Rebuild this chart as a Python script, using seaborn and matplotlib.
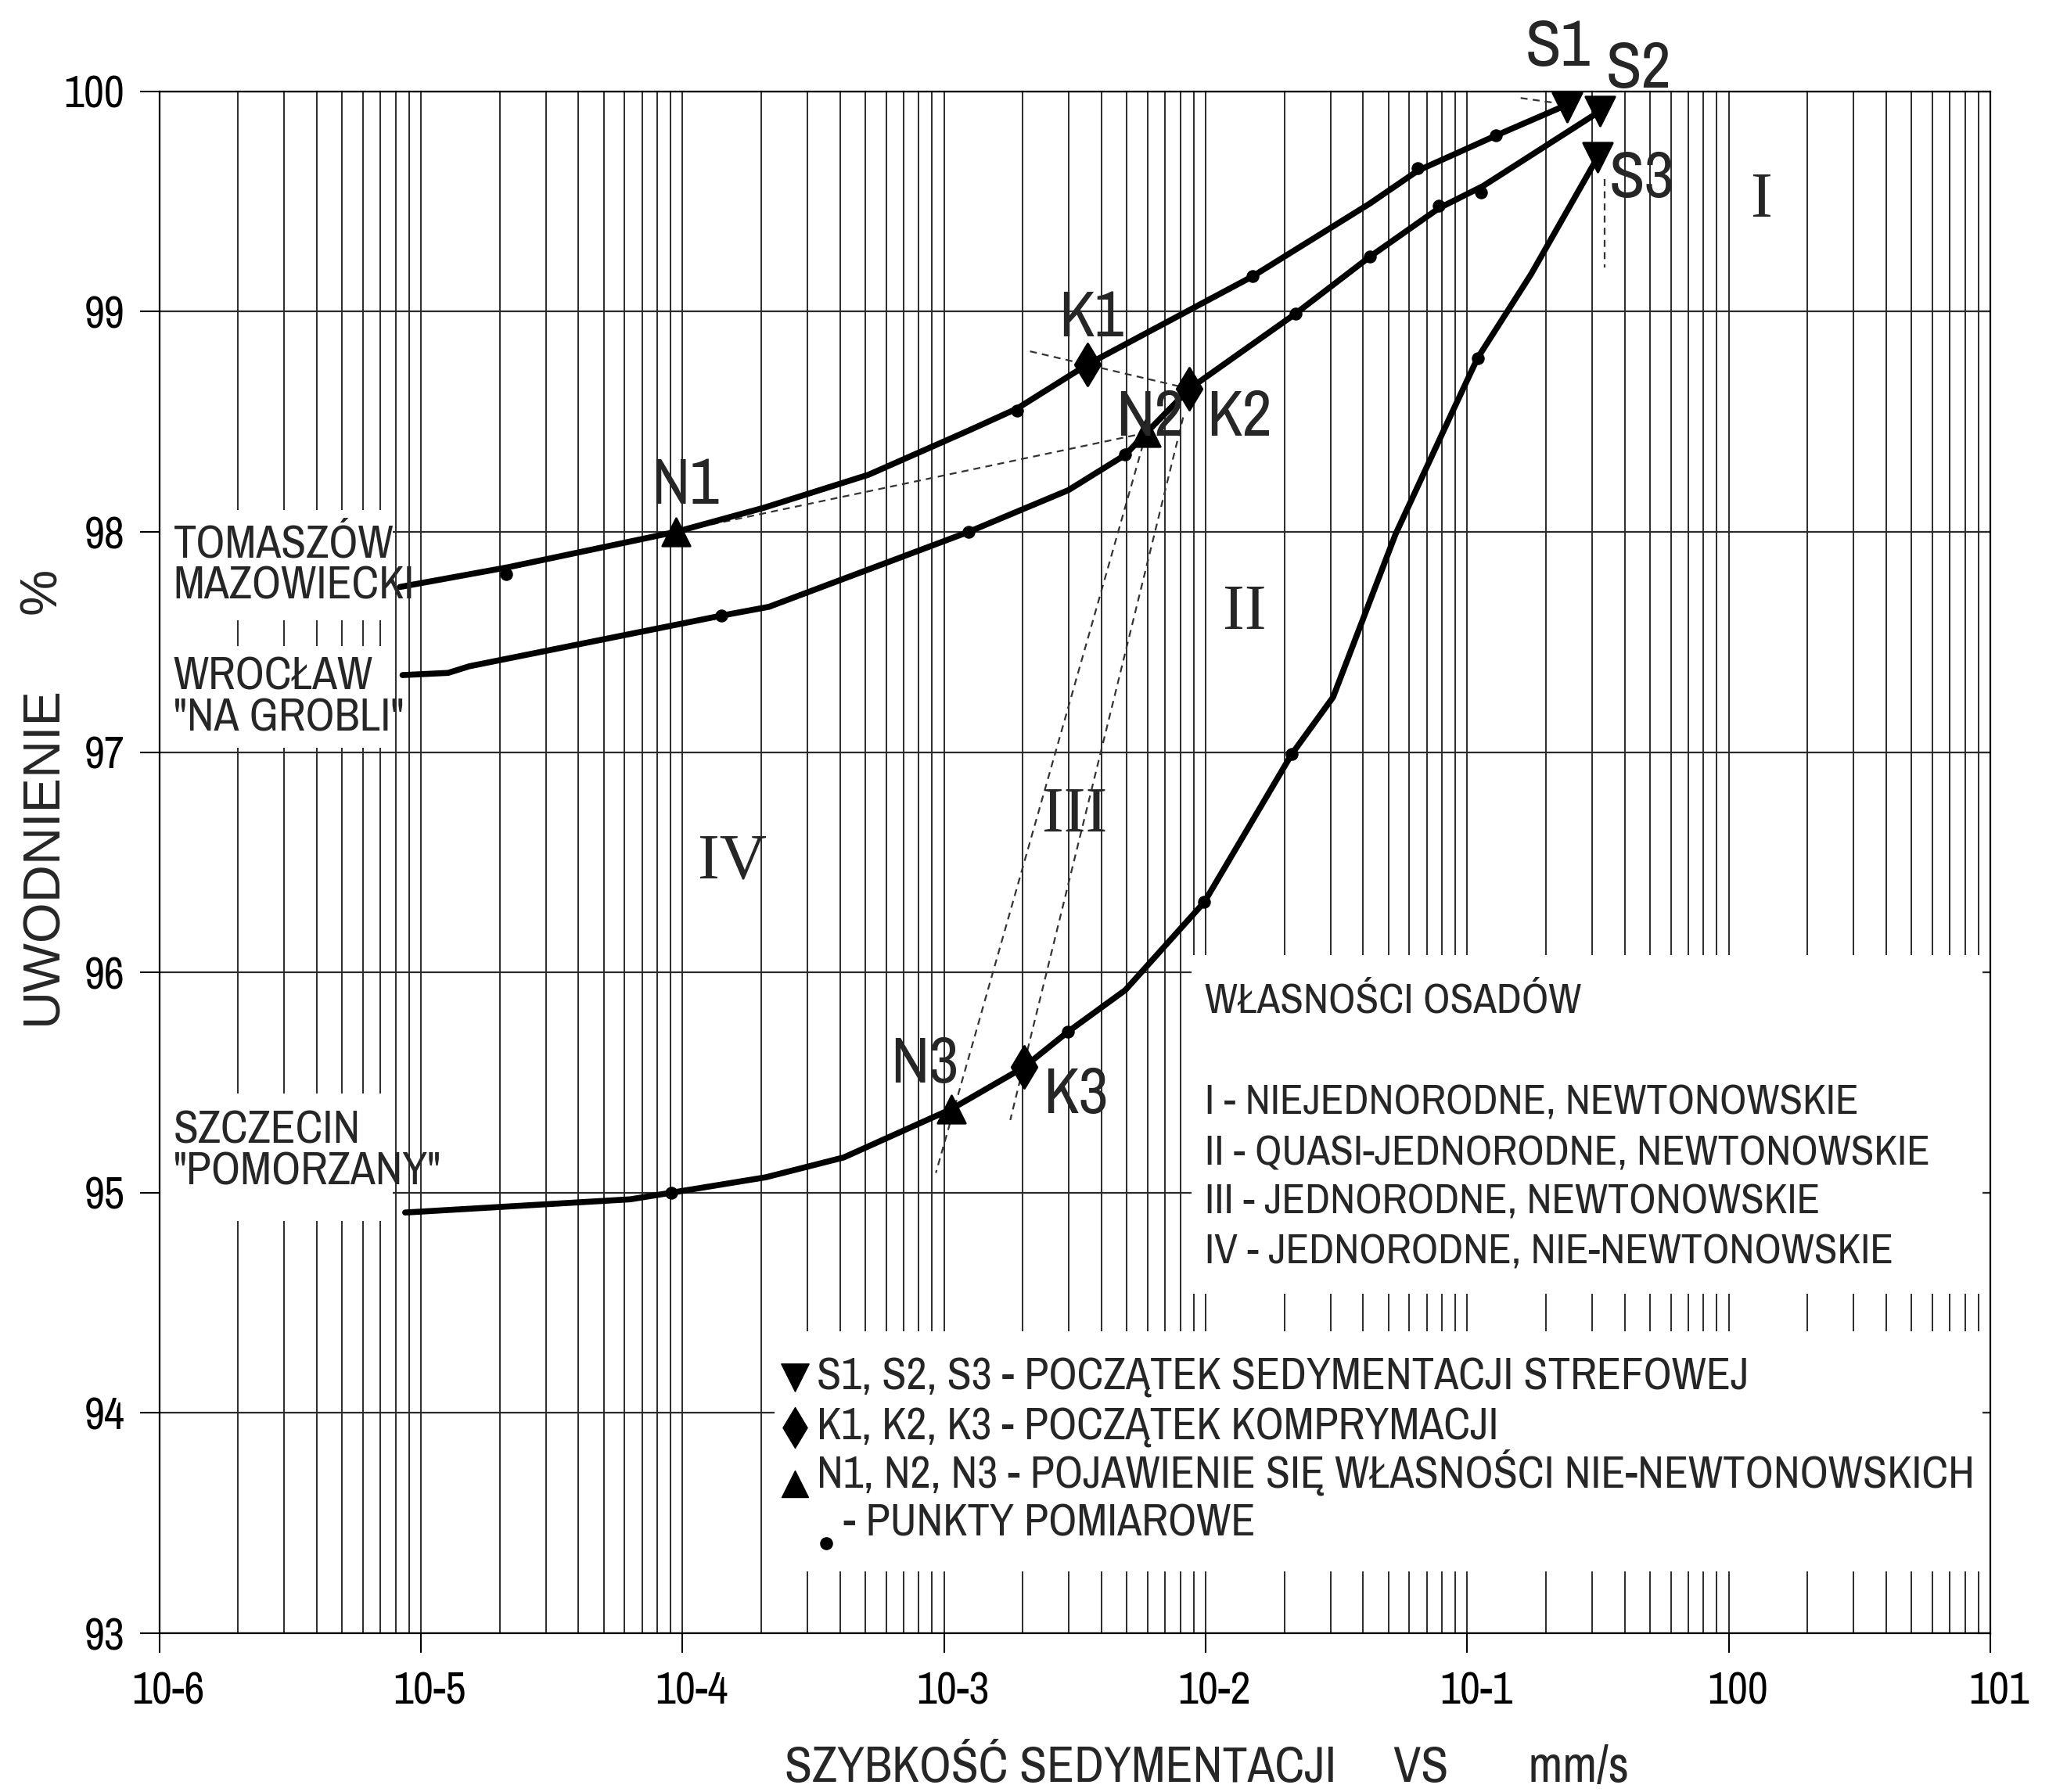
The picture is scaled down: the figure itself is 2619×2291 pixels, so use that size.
import numpy as np
import pandas as pd
import seaborn as sns
import matplotlib.pyplot as plt
from matplotlib.patches import Rectangle
from matplotlib.transforms import ScaledTranslation
from matplotlib.ticker import FixedLocator, FixedFormatter, LogLocator, NullFormatter

# krzywe (x - szybkosc sedymentacji mm/s, y - uwodnienie %)
tomaszow_x = [8.3e-6, 2.16e-5, 9.42e-5, 2.05e-4, 5.15e-4, 1.24e-3, 1.9e-3, 3.53e-3, 0.0151, 0.0423, 0.0647, 0.129, 0.2415]
tomaszow_y = [97.75, 97.84, 98.0, 98.11, 98.26, 98.46, 98.56, 98.76, 99.16, 99.49, 99.64, 99.80, 99.94]

wroclaw_x = [8.5e-6, 1.27e-5, 1.53e-5, 1.41e-4, 2.14e-4, 1.24e-3, 2.99e-3, 4.93e-3, 5.93e-3, 8.67e-3, 0.022, 0.0425, 0.078, 0.1148, 0.3214]
wroclaw_y = [97.35, 97.36, 97.39, 97.62, 97.66, 98.0, 98.19, 98.35, 98.45, 98.65, 98.99, 99.25, 99.47, 99.57, 99.91]

szczecin_x = [8.7e-6, 6.31e-5, 9.06e-5, 2.08e-4, 4.13e-4, 1.067e-3, 2.02e-3, 2.97e-3, 4.93e-3, 9.89e-3, 0.0213, 0.0307, 0.0532, 0.0881, 0.1096, 0.1754, 0.3148]
szczecin_y = [94.91, 94.97, 95.0, 95.07, 95.16, 95.38, 95.57, 95.73, 95.92, 96.32, 96.99, 97.25, 97.99, 98.55, 98.79, 99.17, 99.70]

# punkty pomiarowe
pts_x = [2.11e-5, 1.9e-3, 0.0151, 0.0647, 0.129,
         1.41e-4, 1.24e-3, 4.93e-3, 0.022, 0.0425, 0.078, 0.1127,
         9.06e-5, 2.97e-3, 9.89e-3, 0.0213, 0.1096]
pts_y = [97.81, 98.55, 99.16, 99.65, 99.80,
         97.62, 98.0, 98.35, 98.99, 99.25, 99.48, 99.54,
         95.0, 95.73, 96.32, 96.99, 98.79]

# S - poczatek sedymentacji strefowej, K - komprymacji, N - nie-newtonowskie
s_x = [0.2415, 0.3214, 0.3148]
s_y = [99.93, 99.91, 99.70]
k_x = [3.53e-3, 8.67e-3, 2.02e-3]
k_y = [98.76, 98.65, 95.57]
n_x = [9.42e-5, 5.93e-3, 1.067e-3]
n_y = [98.0, 98.45, 95.38]

# linie pomocnicze (przerywane)
guides = {
    'n12': ([9.42e-5, 5.93e-3], [98.0, 98.45]),
    'k12': ([2.13e-3, 8.67e-3], [98.82, 98.65]),
    'n23': ([5.93e-3, 9.3e-4], [98.45, 95.09]),
    'k23': ([8.2e-3, 1.79e-3], [98.52, 95.33]),
    's1': ([0.16, 0.2415], [99.97, 99.94]),
    's3': ([0.336, 0.336], [99.6, 99.2]),
}

x_ticks = [1e-6, 1e-5, 1e-4, 1e-3, 1e-2, 1e-1, 1e0, 1e1]
x_tick_labels = ['10-6', '10-5', '10-4', '10-3', '10-2', '10-1', '100', '101']
y_ticks = [93, 94, 95, 96, 97, 98, 99, 100]

point_labels = ['S1', 'S2', 'S3', 'K1', 'K2', 'K3', 'N1', 'N2', 'N3']
point_label_x = [0.2218, 0.4517, 0.4634, 3.66e-3, 0.01343, 3.18e-3, 1.02e-4, 6.14e-3, 8.43e-4]
point_label_y = [100.2, 100.1, 99.60, 98.97, 98.52, 95.445, 98.21, 98.52, 95.58]

zones = ['I', 'II', 'III', 'IV']
zone_x = [1.34, 0.0141, 3.15e-3, 1.545e-4]
zone_y = [99.5, 97.63, 96.71, 96.5]

sites = ['TOMASZÓW\nMAZOWIECKI', 'WROCŁAW\n"NA GROBLI"', 'SZCZECIN\n"POMORZANY"']
site_y = [97.85, 97.25, 95.19]

props_title = 'WŁASNOŚCI OSADÓW'
props = ['I - NIEJEDNORODNE, NEWTONOWSKIE',
         'II - QUASI-JEDNORODNE, NEWTONOWSKIE',
         'III - JEDNORODNE, NEWTONOWSKIE',
         'IV - JEDNORODNE, NIE-NEWTONOWSKIE']
props_y = [95.41, 95.18, 94.96, 94.73]

legend_texts = ['S1, S2, S3 - POCZĄTEK SEDYMENTACJI STREFOWEJ',
                'K1, K2, K3 - POCZĄTEK KOMPRYMACJI',
                'N1, N2, N3 - POJAWIENIE SIĘ WŁASNOŚCI NIE-NEWTONOWSKICH',
                '- PUNKTY POMIAROWE']
legend_y = [94.16, 93.935, 93.73, 93.50]
legend_marker_y = [94.16, 93.935, 93.68, 93.41]

sns.set_theme(style='white')
narrow = ['Archivo Narrow', 'DejaVu Sans']
plt.rcParams['font.family'] = narrow
plt.rcParams['font.stretch'] = 'condensed'

fig = plt.figure(figsize=(26.19, 22.91), dpi=100)
ax = fig.add_axes([0.0778, 0.0886, 0.8936, 0.8604])
ax.set_xscale('log')
ax.set_xlim(1e-6, 10)
ax.set_ylim(93, 100)

# siatka
ax.set_axisbelow(True)
ax.xaxis.set_major_locator(FixedLocator(x_ticks))
ax.xaxis.set_major_formatter(FixedFormatter(x_tick_labels))
ax.xaxis.set_minor_locator(LogLocator(base=10, subs=np.arange(2, 10), numticks=30))
ax.xaxis.set_minor_formatter(NullFormatter())
ax.set_yticks(y_ticks)
ax.set_yticklabels([str(v) for v in y_ticks])
ax.grid(True, which='both', axis='x', color='#2b2b2b', lw=1.4)
ax.grid(True, which='major', axis='y', color='#2b2b2b', lw=1.6)
ax.tick_params(axis='both', which='major', direction='out', length=18, width=1.5,
               labelsize=41, color='black', labelcolor='black', bottom=True, left=True)
ax.tick_params(axis='x', which='major', pad=17)
ax.tick_params(axis='y', which='major', pad=14)
ax.tick_params(axis='x', which='minor', length=0)
for sp in ax.spines.values():
    sp.set_color('black')
    sp.set_linewidth(1.6)

# etykiety osi x lekko przesuniete w prawo jak w oryginale
for lab in ax.get_xticklabels():
    lab.set_transform(lab.get_transform() + ScaledTranslation(8 / 72, 0, fig.dpi_scale_trans))

# male kreski po prawej stronie
sec = ax.secondary_yaxis('right')
sec.set_yticks(y_ticks)
sec.tick_params(direction='in', length=14, width=1.5, color='black', labelright=False, right=True)
sec.spines['right'].set_visible(False)

# biale pola pod opisami
boxes = [(1e-6, 97.6, 7.8e-6, 98.1), (1e-6, 97.02, 7.8e-6, 97.48), (1e-6, 94.87, 7.8e-6, 95.45),
         (8.85e-3, 94.54, 9.33, 96.08), (2.24e-4, 93.28, 9.33, 94.37)]
for x0, y0, x1, y1 in boxes:
    ax.add_patch(Rectangle((x0, y0), x1 - x0, y1 - y0, facecolor='white', edgecolor='none', zorder=1))

for name, (gx, gy) in guides.items():
    ax.plot(gx, gy, color='#333333', lw=1.6, ls=(0, (4, 3)), zorder=2)

# krzywe
for cx, cy in [(tomaszow_x, tomaszow_y), (wroclaw_x, wroclaw_y), (szczecin_x, szczecin_y)]:
    sns.lineplot(x=cx, y=cy, ax=ax, sort=False, estimator=None, color='black', lw=5.5, zorder=3)

sns.scatterplot(x=pts_x, y=pts_y, ax=ax, marker='o', s=120, color='black', edgecolor='black', zorder=4)
sns.scatterplot(x=s_x, y=s_y, ax=ax, marker='v', s=720, color='black', edgecolor='black', zorder=5)
sns.scatterplot(x=k_x, y=k_y, ax=ax, marker='d', s=750, color='black', edgecolor='black', zorder=5)
sns.scatterplot(x=n_x, y=n_y, ax=ax, marker='^', s=650, color='black', edgecolor='black', zorder=5)

for lab, lx, ly in zip(point_labels, point_label_x, point_label_y):
    ax.text(lx, ly, lab, fontsize=60, ha='center', va='center', zorder=6, clip_on=False)

for lab, zx, zy in zip(zones, zone_x, zone_y):
    ax.text(zx, zy, lab, fontsize=60, family=['Liberation Serif', 'DejaVu Serif'], fontstretch='normal',
            ha='center', va='center', zorder=6)

for lab, sy in zip(sites, site_y):
    ax.text(1.13e-6, sy, lab, fontsize=42, ha='left', va='center', linespacing=1.0, zorder=6)

ax.text(9.95e-3, 95.87, props_title, fontsize=39, ha='left', va='center', zorder=6)
for lab, py in zip(props, props_y):
    ax.text(9.95e-3, py, lab, fontsize=39, ha='left', va='center', zorder=6)

# legenda znacznikow
leg_markers = ['v', 'd', '^', 'o']
leg_sizes = [650, 700, 600, 120]
leg_mx = [2.69e-4, 2.69e-4, 2.69e-4, 3.54e-4]
for m, s, mx, my in zip(leg_markers, leg_sizes, leg_mx, legend_marker_y):
    ax.scatter([mx], [my], marker=m, s=s, color='black', zorder=6)
leg_tx = [3.27e-4, 3.27e-4, 3.27e-4, 4.11e-4]
for lab, tx, ty in zip(legend_texts, leg_tx, legend_y):
    ax.text(tx, ty, lab, fontsize=41, ha='left', va='center', zorder=6)

ax.set_xlabel('')
ax.set_ylabel('')
fig.text(0.589, 0.0135, 'SZYBKOŚĆ SEDYMENTACJI     VS       mm/s', fontsize=46,
         ha='center', va='center')
fig.text(0.021, 0.5225, 'UWODNIENIE', fontsize=48, family=['Liberation Sans', 'DejaVu Sans'],
         fontstretch='normal', rotation=90, ha='center', va='center')
fig.text(0.0205, 0.6705, '%', fontsize=48, family=['Liberation Sans', 'DejaVu Sans'],
         fontstretch='normal', rotation=90, ha='center', va='center')

fig.savefig('out.png', dpi=100, facecolor='white')
